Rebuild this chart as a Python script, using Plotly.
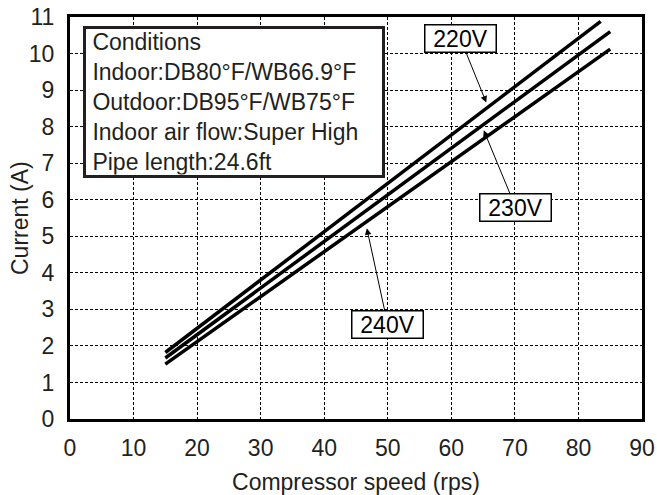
import plotly.graph_objects as go

# Data
speed_220 = [15, 83.5]
current_220 = [1.82, 10.88]
speed_230 = [15, 85]
current_230 = [1.67, 10.6]
speed_240 = [15, 85]
current_240 = [1.5, 10.12]

x_ticks = [0, 10, 20, 30, 40, 50, 60, 70, 80, 90]
y_ticks = [0, 1, 2, 3, 4, 5, 6, 7, 8, 9, 10, 11]

condition_lines = [
    "Conditions",
    "Indoor:DB80°F/WB66.9°F",
    "Outdoor:DB95°F/WB75°F",
    "Indoor air flow:Super High",
    "Pipe length:24.6ft",
]

FONT = "Liberation Sans, Arial, sans-serif"
TXT = "#231f20"
FS = 23

fig = go.Figure()
for xs, ys, name in [(speed_220, current_220, "220V"),
                     (speed_230, current_230, "230V"),
                     (speed_240, current_240, "240V")]:
    fig.add_trace(go.Scatter(x=xs, y=ys, mode="lines", name=name,
                             line=dict(color="black", width=3.5),
                             showlegend=False, hoverinfo="skip"))

axis_common = dict(
    showline=True, linecolor="black", linewidth=3, mirror=True,
    showgrid=True, gridcolor="black", gridwidth=1, griddash="3px,2px",
    zeroline=False, ticks="", automargin=False,
    tickfont=dict(size=FS, color=TXT, family=FONT),
)

fig.update_xaxes(range=[0, 90], tickvals=x_ticks, ticklabelstandoff=6,
                 title=dict(text="Compressor speed (rps)", font=dict(size=FS, color=TXT, family=FONT),
                            standoff=18),
                 **axis_common)
fig.update_yaxes(range=[0, 11], tickvals=y_ticks, ticklabelstandoff=8, **axis_common)

# Y axis title
fig.add_annotation(
    xref="paper", yref="paper", x=-0.0874, y=0.5, xanchor="center", yanchor="middle",
    text="Current (A)", textangle=-90, showarrow=False,
    font=dict(size=FS, color=TXT, family=FONT),
)

# Conditions box
fig.add_annotation(
    xref="paper", yref="paper", x=0.0225, y=0.977, xanchor="left", yanchor="top",
    text="<br>".join("\u00a0" + s for s in condition_lines), align="left", showarrow=False,
    font=dict(size=FS, color=TXT, family=FONT),
    bordercolor=TXT, borderwidth=3, borderpad=0, bgcolor="white", width=296,
)

# Voltage labels with arrows
labels = [
    ("220V", 65.5, 8.66, 61.4, 10.42),
    ("230V", 65.1, 7.9, 70.1, 5.8),
    ("240V", 46.7, 5.22, 50.0, 2.58),
]
for text, tx, ty, bx, by in labels:
    fig.add_annotation(
        x=tx, y=ty, ax=bx, ay=by, xref="x", yref="y", axref="x", ayref="y",
        text=text, showarrow=True, arrowhead=2, arrowsize=1.3, arrowwidth=1,
        arrowcolor="black", font=dict(size=FS, color="black", family=FONT),
        bgcolor="white", bordercolor="black", borderwidth=1.5, borderpad=0, width=70,
    )

fig.update_layout(
    width=657, height=495,
    margin=dict(l=70, r=15, t=17, b=76, autoexpand=False),
    plot_bgcolor="white", paper_bgcolor="white",
    font=dict(family=FONT, color=TXT),
)

fig.write_html("out.html", config={"displayModeBar": False},
               post_script="document.body.style.margin='0';document.documentElement.style.overflow='hidden';")
